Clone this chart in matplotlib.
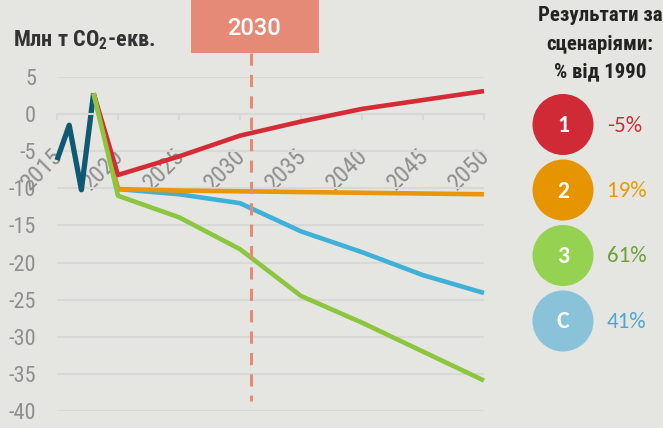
import matplotlib
matplotlib.use("Agg")
import matplotlib.pyplot as plt
from matplotlib import font_manager
from matplotlib.patches import Circle, Rectangle
from matplotlib.transforms import ScaledTranslation

# data (Mt CO2-eq.)
hist_years = [2015, 2016, 2017, 2018]
hist_vals = [-6.2, -1.5, -10.2, 2.8]

scen_years = [2018, 2020, 2025, 2030, 2035, 2040, 2045, 2050]
scen_1 = [2.8, -8.2, -5.7, -2.9, -1.0, 0.7, 1.9, 3.1]
scen_2 = [2.8, -10.1, -10.3, -10.4, -10.5, -10.6, -10.7, -10.8]
scen_3 = [2.8, -11.0, -13.9, -18.2, -24.5, -28.1, -32.0, -35.9]
scen_c = [2.8, -10.1, -10.8, -12.0, -15.8, -18.6, -21.7, -24.1]

scen_labels = ["1", "2", "3", "C"]
scen_pct = ["-5%", "19%", "61%", "41%"]

x_ticks = [2015, 2020, 2025, 2030, 2035, 2040, 2045, 2050]
y_ticks = [5, 0, -5, -10, -15, -20, -25, -30, -35, -40]

BG = "#e5e6e1"
GRID = "#d8d8d6"
LINE_COLORS = ["#d42b37", "#e8960a", "#8cc63f", "#3fb0d8"]
CIRCLE_COLORS = ["#cf2a36", "#e69500", "#95d251", "#8ac3d9"]
PCT_COLORS = ["#d02a36", "#e69a00", "#6f9e3a", "#4aa8d0"]
HIST_COLOR = "#0f5a72"


def pick(*cands):
    names = {f.name for f in font_manager.fontManager.ttflist}
    for c in cands:
        if c in names:
            return [c, "DejaVu Sans"]
    return ["DejaVu Sans"]


COND = pick("Roboto Condensed", "PT Sans Narrow", "Fira Sans Condensed",
            "Open Sans Condensed", "Liberation Sans Narrow", "Liberation Sans")
CALI = pick("Carlito", "Open Sans")
ROBO = pick("Roboto", "Liberation Sans")

plt.rcParams["mathtext.fontset"] = "custom"
plt.rcParams["mathtext.rm"] = COND[0] + ":bold"
plt.rcParams["mathtext.it"] = COND[0] + ":bold"
plt.rcParams["mathtext.bf"] = COND[0] + ":bold"

fig = plt.figure(figsize=(6.63, 4.28), dpi=100, facecolor=BG)
W, H = 663, 428

# main axes placed in pixel terms
left, right, top, bottom = 57, 484, 77, 411
ax = fig.add_axes([left / W, 1 - bottom / H, (right - left) / W, (bottom - top) / H])
ax.set_facecolor(BG)
ax.set_xlim(2015, 2050)
ax.set_ylim(-40, 5)

for s in ["top", "right", "left"]:
    ax.spines[s].set_visible(False)
ax.spines["bottom"].set_position(("data", 0))
ax.spines["bottom"].set_color(GRID)
ax.spines["bottom"].set_linewidth(1.5)

ax.set_yticks(y_ticks)
ax.set_yticklabels([str(v) for v in y_ticks])
ax.yaxis.grid(True, color=GRID, linewidth=1.5)
ax.set_axisbelow(True)
ax.tick_params(axis="y", length=0, pad=15, labelsize=16, labelcolor="#8e8e8e")

ax.set_xticks(x_ticks)
ax.set_xticklabels([str(v) for v in x_ticks], rotation=45, ha="right", va="top",
                   rotation_mode="anchor")
ax.tick_params(axis="x", direction="out", length=4.5, width=1.5, color=GRID,
               pad=17, labelsize=17.5, labelcolor="#8e8e8e")
shift = ScaledTranslation(-6 / 100, 0, fig.dpi_scale_trans)
for lab in ax.get_xticklabels():
    lab.set_transform(lab.get_transform() + shift)
for lab in ax.get_xticklabels() + ax.get_yticklabels():
    lab.set_family(COND)

kw = dict(solid_joinstyle="round", solid_capstyle="butt", clip_on=False)
ax.plot(hist_years, hist_vals, color=HIST_COLOR, linewidth=3.8, zorder=2, **kw)
ax.plot(scen_years, scen_c, color=LINE_COLORS[3], linewidth=3.3, zorder=3, **kw)
ax.plot(scen_years, scen_2, color=LINE_COLORS[1], linewidth=3.3, zorder=4, **kw)
ax.plot(scen_years, scen_1, color=LINE_COLORS[0], linewidth=3.3, zorder=5, **kw)
ax.plot(scen_years, scen_3, color=LINE_COLORS[2], linewidth=3.3, zorder=6, **kw)

# overlay in pixel coordinates for the annotations
ov = fig.add_axes([0, 0, 1, 1])
ov.set_xlim(0, W)
ov.set_ylim(H, 0)
ov.axis("off")
ov.patch.set_alpha(0)

ov.text(13, 46, r"Млн т CO$_2$-екв.", fontsize=16, color="#333333", family=COND,
        ha="left", va="baseline", fontweight="bold")

# 2030 marker
ov.plot([251, 251], [53, 401], color="#e48a77", linewidth=2.2, dashes=[4, 3])
ov.add_patch(Rectangle((191, 0), 128, 53, color="#e48a77", linewidth=0))
ov.text(254, 28, "2030", fontsize=17, color="white", family=ROBO,
        ha="center", va="center", fontweight="medium")

# scenario legend
for txt, y in zip(["Результати за", "сценаріями:", "% від 1990"], [15, 44, 72]):
    ov.text(600, y, txt, fontsize=15, color="#222222", family=COND,
            ha="center", va="center", fontweight="bold")

cy = 124.5
for lab, pct, cc, pc in zip(scen_labels, scen_pct, CIRCLE_COLORS, PCT_COLORS):
    ov.add_patch(Circle((563, cy), 30.5, color=cc, linewidth=0))
    ov.text(563, cy + 1, lab, fontsize=17, color="white", family=CALI,
            fontweight="bold", ha="center", va="center")
    ov.text(607, cy + 1, pct, fontsize=16.5, color=pc, family=CALI,
            ha="left", va="center")
    cy += 65.5

fig.savefig("out.png", dpi=100, facecolor=BG)
